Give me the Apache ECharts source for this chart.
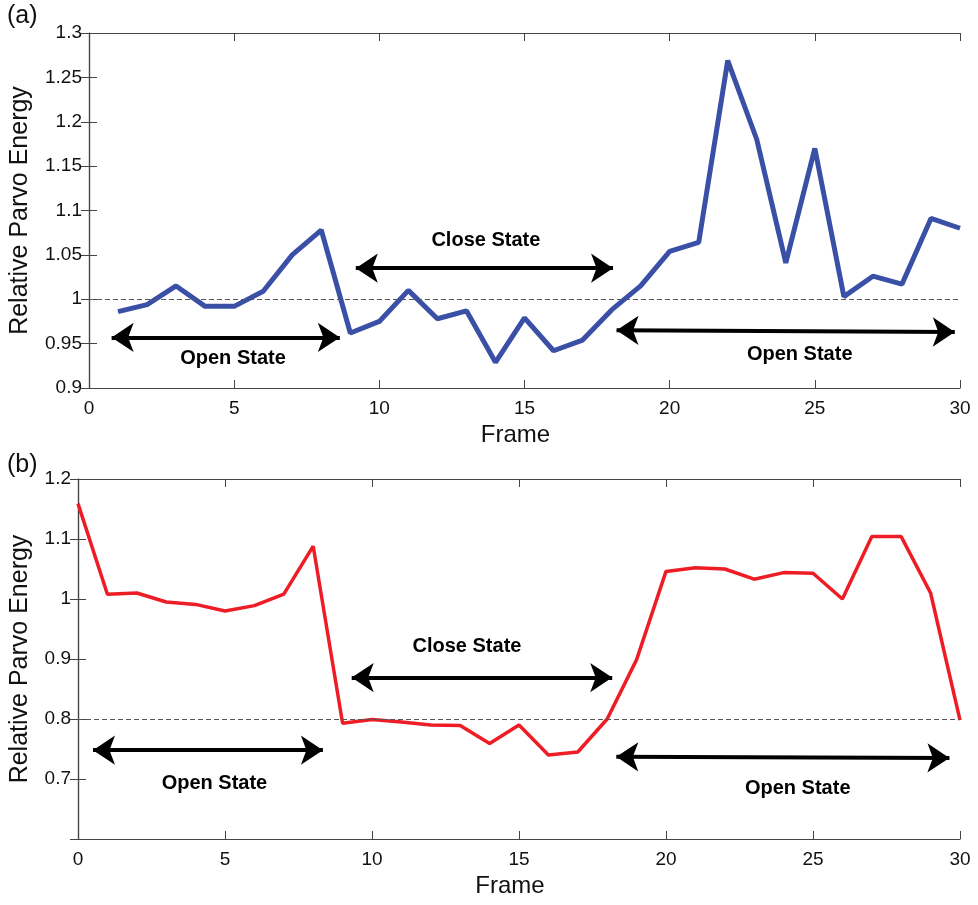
<!DOCTYPE html>
<html>
<head>
<meta charset="utf-8">
<script src="https://cdn.jsdelivr.net/npm/echarts@6/dist/echarts.min.js"></script>
<style>html,body{margin:0;padding:0;background:#fff}#c{width:978px;height:905px}</style>
</head>
<body>
<div id="c"></div>
<script>
// ---- data ----
const framesA = [1,2,3,4,5,6,7,8,9,10,11,12,13,14,15,16,17,18,19,20,21,22,23,24,25,26,27,28,29,30];
const energyA = [0.986,0.994,1.015,0.992,0.992,1.009,1.050,1.078,0.962,0.975,1.010,0.978,0.987,0.929,0.979,0.942,0.954,0.988,1.015,1.054,1.064,1.269,1.180,1.041,1.170,1.003,1.026,1.017,1.091,1.080];
const framesB = [0,1,2,3,4,5,6,7,8,9,10,11,12,13,14,15,16,17,18,19,20,21,22,23,24,25,26,27,28,29,30];
const energyB = [1.159,1.008,1.010,0.995,0.991,0.980,0.989,1.008,1.088,0.793,0.799,0.795,0.790,0.789,0.759,0.790,0.740,0.745,0.800,0.899,1.046,1.052,1.050,1.033,1.044,1.043,1.000,1.104,1.104,1.010,0.798];
const refA = 1.0;
const refB = 0.802;
// arrows: [x1, y1, x2, y2]
const arrowsA = [[0.78,0.957,8.64,0.957],[9.19,1.035,18.05,1.035],[18.17,0.965,29.82,0.963]];
const arrowsB = [[0.51,0.748,8.33,0.748],[9.31,0.869,18.17,0.869],[18.31,0.737,29.64,0.735]];
// state labels: [x, y, text]
const labelsA = [[4.96,0.933,'Open State'],[13.67,1.066,'Close State'],[24.48,0.938,'Open State']];
const labelsB = [[4.64,0.693,'Open State'],[13.23,0.921,'Close State'],[24.48,0.685,'Open State']];
const xTicks = {min:0, max:30, interval:5};
const yTicksA = {min:0.9, max:1.3, interval:0.05};
const yTicksB = {min:0.6, max:1.2, interval:0.1};

const FONT = '"Liberation Sans", Arial, Helvetica, sans-serif';
const AX = '#444';
const fmt = v => String(+v.toFixed(2));

function xAxes(gi){
  return [
    {type:'value', gridIndex:gi, position:'bottom', min:xTicks.min, max:xTicks.max, interval:xTicks.interval,
     name:'Frame', nameLocation:'middle', nameGap:35,
     nameTextStyle:{fontFamily:FONT, fontSize:24, color:'#111', padding:[0,18,0,0]},
     axisLine:{lineStyle:{color:AX, width:1.2}}, axisTick:{inside:true, length:8, lineStyle:{color:AX}},
     axisLabel:{fontFamily:FONT, fontSize:19, color:'#111', margin:11, formatter:fmt}, splitLine:{show:false}},
    {type:'value', gridIndex:gi, position:'top', min:xTicks.min, max:xTicks.max, interval:xTicks.interval,
     axisLine:{lineStyle:{color:AX, width:1.2}}, axisTick:{inside:true, length:8, lineStyle:{color:AX}},
     axisLabel:{show:false}, splitLine:{show:false}}
  ];
}
function yAxes(gi, t, gap, hideMin){
  return [
    {type:'value', gridIndex:gi, position:'left', min:t.min, max:t.max, interval:t.interval,
     name:'Relative Parvo Energy', nameLocation:'middle', nameGap:gap,
     nameTextStyle:{fontFamily:FONT, fontSize:25, color:'#111'},
     axisLine:{show:true, lineStyle:{color:AX, width:1.2}}, axisTick:{show:true, inside:true, length:8, lineStyle:{color:AX}},
     axisLabel:{fontFamily:FONT, fontSize:19, color:'#111', margin:7,
       formatter: v => (hideMin && Math.abs(v-t.min)<1e-9) ? '' : fmt(v)},
     splitLine:{show:false}},
    {type:'value', gridIndex:gi, position:'right', min:t.min, max:t.max, interval:t.interval,
     axisLine:{show:true, lineStyle:{color:AX, width:1.2}}, axisTick:{show:true, inside:true, length:8, lineStyle:{color:AX}},
     axisLabel:{show:false}, splitLine:{show:false}}
  ];
}
function arrowML(arr){
  return {
    silent:true, symbol:['arrow','arrow'], symbolSize:[22,22],
    label:{show:false}, precision:4,
    lineStyle:{color:'#000', width:4, type:'solid'},
    data: arr.map(a => [{coord:[a[0],a[1]]},{coord:[a[2],a[3]]}])
  };
}
function labelMP(arr){
  return {
    silent:true, symbol:'circle', symbolSize:0,
    label:{show:true, position:'inside', formatter:'{b}', fontFamily:FONT, fontWeight:'bold', fontSize:20, color:'#000'},
    data: arr.map(a => ({name:a[2], coord:[a[0],a[1]]}))
  };
}
function refML(v){
  return {silent:true, symbol:'none', label:{show:false},
    lineStyle:{color:'#555', width:1, type:[5,3]}, data:[{yAxis:v}]};
}

const chart = echarts.init(document.getElementById('c'), null, {renderer:'canvas'});
chart.setOption({
  backgroundColor:'#fff',
  animation:false,
  grid:[
    {left:89, right:18, top:33, height:355},
    {left:78, right:18, top:479, height:360}
  ],
  xAxis:[...xAxes(0), ...xAxes(1)],
  yAxis:[...yAxes(0, yTicksA, 56, false), ...yAxes(1, yTicksB, 45, true)],
  graphic:[
    {type:'text', left:7, top:4, style:{text:'(a)', font:'25px '+FONT, fill:'#111'}},
    {type:'text', left:7, top:453, style:{text:'(b)', font:'25px '+FONT, fill:'#111'}}
  ],
  series:[
    {type:'line', xAxisIndex:0, yAxisIndex:0, data: framesA.map((f,i)=>[f,energyA[i]]),
     symbol:'none', lineStyle:{color:'#3a4fa6', width:5}, z:3},
    {type:'line', xAxisIndex:0, yAxisIndex:0, data:[], markLine:refML(refA), z:2},
    {type:'line', xAxisIndex:0, yAxisIndex:0, data:[], markLine:arrowML(arrowsA), markPoint:labelMP(labelsA), z:4},
    {type:'line', xAxisIndex:2, yAxisIndex:2, data: framesB.map((f,i)=>[f,energyB[i]]),
     symbol:'none', lineStyle:{color:'#ee1c25', width:3.5}, z:3},
    {type:'line', xAxisIndex:2, yAxisIndex:2, data:[], markLine:refML(refB), z:2},
    {type:'line', xAxisIndex:2, yAxisIndex:2, data:[], markLine:arrowML(arrowsB), markPoint:labelMP(labelsB), z:4}
  ]
});
</script>
</body>
</html>
